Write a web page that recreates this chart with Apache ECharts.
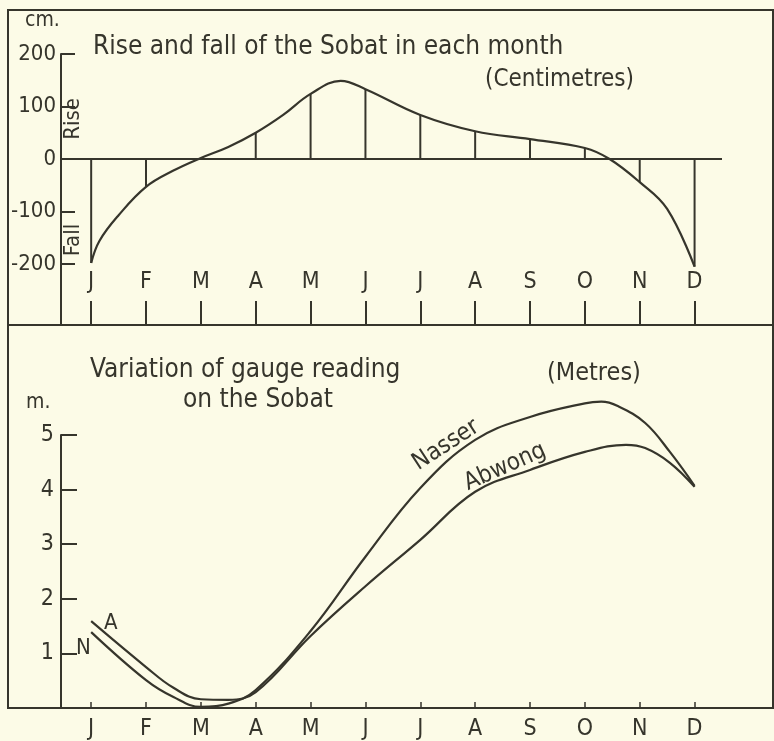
<!DOCTYPE html>
<html><head><meta charset="utf-8">
<script src="https://cdn.jsdelivr.net/npm/echarts@6/dist/echarts.min.js"></script>
<style>html,body{margin:0;padding:0;background:#fcfbe7}#c{width:774px;height:741px}</style>
</head><body><div id="c"></div>
<script>
// month letters (x axis tick labels)
const months = ['J','F','M','A','M','J','J','A','S','O','N','D'];
const monthIdx = [0,1,2,3,4,5,6,7,8,9,10,11];
// top panel: rise / fall in each month (cm), value read at each month
const riseFall = [-198,-53,2,50,124,133,84,53,38,21,-44,-205];
// extra points: [month position, cm]
const riseFallCurve = [[0,-198],[0.15,-156],[0.5,-107],[1,-53],[1.5,-22],[2,2],[2.5,23],[3,50],[3.5,84],[4,124],[4.55,149],[5,133],[6,84],[7,53],[8,38],[9,21],[9.45,0],[10,-44],[10.5,-95],[11,-205]];
const cmTicks = [-200,-100,0,100,200];
// bottom panel: gauge reading (m)
const nasser = [[0,1.39],[1,0.51],[1.5,0.2],[2,0.02],[2.5,0.08],[3,0.33],[4,1.41],[5,2.77],[6,4.03],[7,4.91],[8,5.33],[9,5.58],[9.3,5.61],[9.6,5.53],[10.1,5.22],[10.55,4.69],[11,4.07]];
const abwong = [[0,1.59],[1,0.75],[1.5,0.37],[2,0.16],[2.5,0.15],[3,0.29],[4,1.32],[5,2.23],[6,3.08],[7,3.96],[8,4.36],[9,4.69],[9.75,4.82],[10.1,4.76],[10.55,4.49],[11,4.05]];
const mTicks = [1,2,3,4,5];

const ink = '#36352c';
const font = "'Liberation Sans Narrow','DejaVu Sans Condensed','DejaVu Sans',sans-serif";
const chart = echarts.init(document.getElementById('c'));
const hiddenX = (g)=>({type:'value',gridIndex:g,show:false,min:0,max:1});
const hiddenY = (g)=>({type:'value',gridIndex:g,show:false,min:0,max:1});
function txt(x,y,s,size,extra){
  const e = extra||{};
  return {type:'text',x:x,y:y,rotation:e.rotation||0,
    style:{text:s,font:size+'px '+font,fill:ink,textAlign:e.align||'left',textVerticalAlign:'middle'}};
}
const curveStyle = {type:'line',smooth:0.4,symbol:'none',clip:false,lineStyle:{color:ink,width:2.2}};
chart.setOption({
  backgroundColor:'#fcfbe7',
  animation:false,
  grid:[
    {left:61,top:54,width:661,height:271},
    {left:61,top:435,width:661,height:273},
    {left:8,top:10,width:765,height:315,show:true,borderColor:ink,borderWidth:2,backgroundColor:'transparent'},
    {left:8,top:325,width:765,height:383,show:true,borderColor:ink,borderWidth:2,backgroundColor:'transparent'}
  ],
  xAxis:[
    {type:'value',gridIndex:0,min:-0.55,max:11.5,splitLine:{show:false},
     axisLine:{show:false,onZero:false},
     axisTick:{show:true,inside:true,length:24,customValues:monthIdx,lineStyle:{color:ink,width:2}},
     axisLabel:{inside:true,margin:31,showMinLabel:true,showMaxLabel:true,hideOverlap:false,customValues:monthIdx,formatter:(v)=>months[Math.round(v)],color:ink,fontSize:23,fontFamily:font}},
    {type:'value',gridIndex:1,min:-0.55,max:11.5,splitLine:{show:false},
     axisLine:{show:false,onZero:false},
     axisTick:{show:true,inside:true,length:6,customValues:monthIdx,lineStyle:{color:ink,width:1.5}},
     axisLabel:{margin:10,showMinLabel:true,showMaxLabel:true,hideOverlap:false,customValues:monthIdx,formatter:(v)=>months[Math.round(v)],color:ink,fontSize:23,fontFamily:font}},
    hiddenX(2),hiddenX(3)
  ],
  yAxis:[
    {type:'value',gridIndex:0,min:-316,max:200,splitLine:{show:false},
     axisLine:{show:true,onZero:false,lineStyle:{color:ink,width:2}},
     axisTick:{show:true,inside:true,length:14,customValues:cmTicks,lineStyle:{color:ink,width:2}},
     axisLabel:{margin:5,customValues:cmTicks,color:ink,fontSize:22,fontFamily:font}},
    {type:'value',gridIndex:1,min:0,max:5,splitLine:{show:false},
     axisLine:{show:true,onZero:false,lineStyle:{color:ink,width:2}},
     axisTick:{show:true,inside:true,length:16,customValues:mTicks,lineStyle:{color:ink,width:2}},
     axisLabel:{margin:7,customValues:mTicks,color:ink,fontSize:23,fontFamily:font}},
    hiddenY(2),hiddenY(3)
  ],
  series:[
    {type:'bar',xAxisIndex:0,yAxisIndex:0,barWidth:2,itemStyle:{color:ink},
     data:monthIdx.map((m,i)=>[m,riseFall[i]]),
     markLine:{silent:true,symbol:'none',label:{show:false},lineStyle:{color:ink,width:2,type:'solid'},
       data:[[{coord:[-0.55,0]},{coord:[11.5,0]}]]}},
    Object.assign({},curveStyle,{xAxisIndex:0,yAxisIndex:0,data:riseFallCurve}),
    Object.assign({},curveStyle,{name:'Nasser',xAxisIndex:1,yAxisIndex:1,data:nasser}),
    Object.assign({},curveStyle,{name:'Abwong',xAxisIndex:1,yAxisIndex:1,data:abwong})
  ],
  graphic:[
    txt(25,21,'cm.',21),
    txt(93,47,'Rise and fall of the Sobat in each month',26),
    txt(485,80,'(Centimetres)',24),
    txt(73,119,'Rise',22,{rotation:Math.PI/2,align:'center'}),
    txt(73,240,'Fall',22,{rotation:Math.PI/2,align:'center'}),
    txt(90,370,'Variation of gauge reading',26),
    txt(183,400,'on the Sobat',26),
    txt(547,373,'(Metres)',25),
    txt(26,403,'m.',21),
    txt(446,445,'Nasser',24,{rotation:33*Math.PI/180,align:'center'}),
    txt(505,467,'Abwong',24,{rotation:24*Math.PI/180,align:'center'}),
    txt(104,623,'A',22),
    txt(76,648,'N',22)
  ]
});
</script></body></html>
